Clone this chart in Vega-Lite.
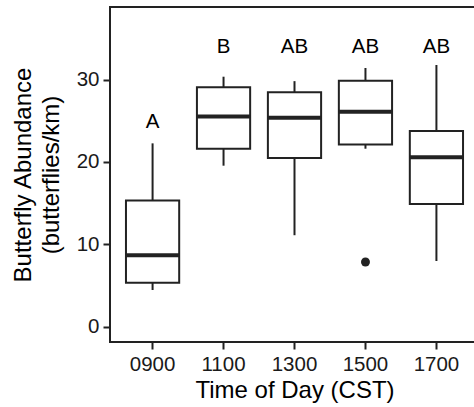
{
  "$schema": "https://vega.github.io/schema/vega-lite/v6.json",
  "width": 369,
  "height": 335,
  "autosize": "none",
  "padding": {"left": 110, "top": 7, "right": 0, "bottom": 65},
  "background": "white",
  "config": {
    "font": "Liberation Sans",
    "view": {"stroke": "#222222", "strokeWidth": 2},
    "axis": {
      "domain": false,
      "grid": false,
      "labelFontSize": 20.5,
      "labelColor": "#1a1a1a",
      "titleFontSize": 24,
      "titleFontWeight": "normal",
      "titleColor": "#000000",
      "tickColor": "#222222",
      "tickWidth": 2,
      "tickSize": 7,
      "labelPadding": 4
    }
  },
  "datasets": {
    "stats": [
      {"time": "0900", "lower": 4.45, "q1": 5.34, "median": 8.66, "q3": 15.3, "upper": 22.25, "letter": "A", "letter_y": 24.8},
      {"time": "1100", "lower": 19.54, "q1": 21.6, "median": 25.5, "q3": 29.05, "upper": 30.34, "letter": "B", "letter_y": 33.9},
      {"time": "1300", "lower": 11.1, "q1": 20.47, "median": 25.37, "q3": 28.45, "upper": 29.8, "letter": "AB", "letter_y": 33.9},
      {"time": "1500", "lower": 21.6, "q1": 22.1, "median": 26.1, "q3": 29.85, "upper": 31.4, "letter": "AB", "letter_y": 33.9},
      {"time": "1700", "lower": 7.97, "q1": 14.9, "median": 20.56, "q3": 23.75, "upper": 31.76, "letter": "AB", "letter_y": 33.9}
    ],
    "outliers": [
      {"time": "1500", "value": 7.85}
    ]
  },
  "encoding": {
    "x": {
      "field": "time",
      "type": "nominal",
      "sort": ["0900", "1100", "1300", "1500", "1700"],
      "scale": {"type": "band", "paddingInner": 0.25, "paddingOuter": 0.225},
      "axis": {"title": "Time of Day (CST)", "labelAngle": 0, "titlePadding": 4, "labelPadding": 5}
    }
  },
  "layer": [
    {
      "data": {"name": "stats"},
      "mark": {"type": "rule", "color": "#222222", "strokeWidth": 2},
      "encoding": {
        "y": {
          "field": "lower",
          "type": "quantitative",
          "scale": {"domain": [-1.86, 38.8], "nice": false, "zero": false},
          "axis": {"title": ["Butterfly Abundance", "(butterflies/km)"], "values": [0, 10, 20, 30], "titlePadding": 13, "titleLineHeight": 28}
        },
        "y2": {"field": "upper"}
      }
    },
    {
      "data": {"name": "stats"},
      "mark": {"type": "bar", "fill": "white", "stroke": "#222222", "strokeWidth": 2},
      "encoding": {
        "y": {"field": "q1", "type": "quantitative"},
        "y2": {"field": "q3"}
      }
    },
    {
      "data": {"name": "stats"},
      "mark": {"type": "tick", "color": "#222222", "thickness": 4, "size": 53, "opacity": 1},
      "encoding": {
        "y": {"field": "median", "type": "quantitative"}
      }
    },
    {
      "data": {"name": "outliers"},
      "mark": {"type": "point", "filled": true, "color": "#222222", "size": 80, "opacity": 1},
      "encoding": {
        "y": {"field": "value", "type": "quantitative"}
      }
    },
    {
      "data": {"name": "stats"},
      "mark": {"type": "text", "fontSize": 20.5, "color": "#000000", "baseline": "middle"},
      "encoding": {
        "y": {"field": "letter_y", "type": "quantitative"},
        "text": {"field": "letter"}
      }
    }
  ]
}
